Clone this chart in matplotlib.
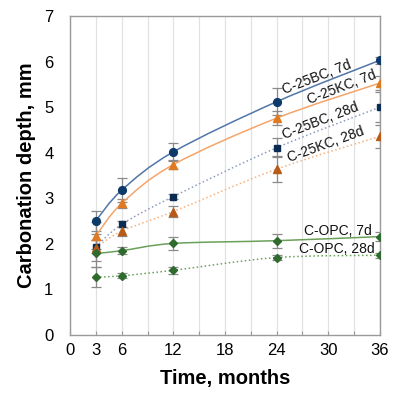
import matplotlib
matplotlib.use("Agg")
import matplotlib.pyplot as plt
import numpy as np
from matplotlib.path import Path
from matplotlib.patches import PathPatch

plt.rcParams['font.family'] = ['Liberation Sans', 'DejaVu Sans']

months = [3, 6, 12, 24, 36]
bc7 = [2.51, 3.18, 4.02, 5.12, 6.03]
kc7 = [2.18, 2.89, 3.74, 4.76, 5.53]
bc28 = [1.94, 2.43, 3.04, 4.11, 5.00]
kc28 = [1.92, 2.28, 2.71, 3.64, 4.36]
opc7 = [1.79, 1.85, 2.01, 2.07, 2.16]
opc28 = [1.27, 1.30, 1.42, 1.70, 1.75]

bc7_err = [0.22, 0.27, 0.20, 0.30, 0.08]
kc7_err = [0.30, 0.10, 0.10, 0.15, 0.15]
bc28_err = [0.15, 0.07, 0.05, 0.21, 0.33]
kc28_err = [0.30, 0.10, 0.12, 0.28, 0.25]
opc7_err = [0.30, 0.08, 0.15, 0.15, 0.10]
opc28_err = [0.22, 0.05, 0.08, 0.05, 0.05]

labels = ["C-25BC, 7d", "C-25KC, 7d", "C-25BC, 28d", "C-25KC, 28d", "C-OPC, 7d", "C-OPC, 28d"]
xticks = list(range(0, 37, 3))
xtick_labels = ["0", "3", "6", "", "12", "", "18", "", "24", "", "30", "", "36"]

fig = plt.figure(figsize=(3.94, 3.93), dpi=100)
ax = fig.add_axes([0.178, 0.1476, 0.786, 0.8114])


def smooth_path(x, y):
    pts = np.column_stack([x, y]).astype(float)
    n = len(pts)
    verts = [pts[0]]
    codes = [Path.MOVETO]
    for i in range(n - 1):
        p0 = pts[i - 1] if i > 0 else pts[i]
        p1 = pts[i]
        p2 = pts[i + 1]
        p3 = pts[i + 2] if i + 2 < n else pts[i + 1]
        c1 = p1 + (p2 - p0) / 6.0
        c2 = p2 - (p3 - p1) / 6.0
        verts += [c1, c2, p2]
        codes += [Path.CURVE4] * 3
    return Path(verts, codes)


series = [
    (bc7, bc7_err, '#5075a8', '-', 'o', '#0e3a6a', 5.6),
    (kc7, kc7_err, '#f5a46a', '-', '^', '#e07a22', 5.6),
    (bc28, bc28_err, '#8c9cc0', ':', 's', '#0b2c52', 4.8),
    (kc28, kc28_err, '#f7b27c', ':', '^', '#b85a18', 5.6),
    (opc7, opc7_err, '#6aa05a', '-', 'D', '#2f6a2f', 4.0),
    (opc28, opc28_err, '#6aa05a', ':', 'D', '#2f6a2f', 4.0),
]

for vals, err, lc, ls, mk, mc, ms in series:
    ax.errorbar(months, vals, yerr=err, fmt='none', ecolor='#8a8a8a',
                elinewidth=0.9, capsize=3.5, capthick=0.9, zorder=2)
    patch = PathPatch(smooth_path(months, vals), facecolor='none', edgecolor=lc,
                      linewidth=1.1, linestyle=ls, zorder=3)
    ax.add_patch(patch)
    ax.plot(months, vals, linestyle='none', marker=mk, markersize=ms,
            markerfacecolor=mc, markeredgecolor=mc, zorder=4)

label_pos = [(28.7, 5.66, 21), (31.6, 5.44, 21), (29.1, 4.70, 21),
             (29.7, 4.17, 20), (31.1, 2.28, 0), (31.0, 1.89, 0)]
for lab, (lx, ly, rot) in zip(labels, label_pos):
    ax.text(lx, ly, lab, fontsize=10, ha='center', va='center', rotation=rot,
            rotation_mode='anchor', color='#111111', zorder=5)

ax.set_xlim(0, 36)
ax.set_ylim(0, 7)
ax.set_xticks(xticks)
ax.set_xticklabels(xtick_labels, fontsize=12)
ax.set_yticks(range(0, 8))
ax.set_yticklabels([str(v) for v in range(0, 8)], fontsize=12)
ax.tick_params(axis='x', direction='in', length=3, color='#999999', pad=6)
ax.tick_params(axis='y', length=0, pad=12)
ax.grid(axis='x', color='#e2e2e2', linewidth=0.9, zorder=0)
ax.set_axisbelow(True)
for sp in ax.spines.values():
    sp.set_color('#9a9a9a')
    sp.set_linewidth(1.0)

ax.set_xlabel('Time, months', fontsize=14.5, fontweight='bold', labelpad=8)
ax.set_ylabel('Carbonation depth, mm', fontsize=14.5, fontweight='bold', labelpad=6)

fig.savefig('out.png', dpi=100)
